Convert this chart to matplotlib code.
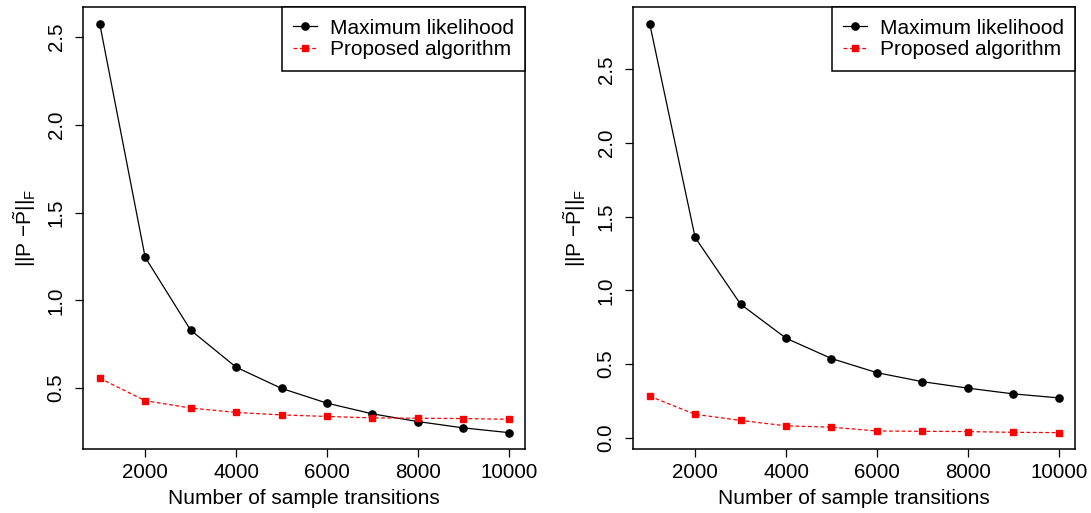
import matplotlib
matplotlib.use("Agg")
import matplotlib.pyplot as plt

plt.rcParams['font.family'] = ['Liberation Sans', 'DejaVu Sans']
plt.rcParams['mathtext.fontset'] = 'custom'
plt.rcParams['mathtext.rm'] = 'Liberation Sans'
plt.rcParams['mathtext.it'] = 'Liberation Sans'
plt.rcParams['mathtext.default'] = 'regular'

# sample sizes
n_samples = [1000, 2000, 3000, 4000, 5000, 6000, 7000, 8000, 9000, 10000]

# left panel
ml_left = [2.576, 1.245, 0.830, 0.619, 0.498, 0.414, 0.353, 0.309, 0.273, 0.246]
prop_left = [0.556, 0.428, 0.386, 0.361, 0.347, 0.338, 0.330, 0.328, 0.326, 0.322]

# right panel
ml_right = [2.811, 1.359, 0.906, 0.675, 0.537, 0.441, 0.380, 0.336, 0.297, 0.270]
prop_right = [0.281, 0.158, 0.117, 0.080, 0.071, 0.045, 0.043, 0.041, 0.036, 0.034]

x_ticks = [2000, 4000, 6000, 8000, 10000]
y_ticks_left = [0.5, 1.0, 1.5, 2.0, 2.5]
y_ticks_right = [0.0, 0.5, 1.0, 1.5, 2.0, 2.5]

fs = 15
fs_tick = 14.8

fig = plt.figure(figsize=(10.91, 5.13), dpi=100)
ax1 = fig.add_axes([0.0764, 0.1248, 0.4049, 0.861])
ax2 = fig.add_axes([0.5805, 0.1248, 0.4049, 0.861])

panels = [(ax1, ml_left, prop_left, y_ticks_left),
          (ax2, ml_right, prop_right, y_ticks_right)]

for ax, ml, prop, yt in panels:
    ax.plot(n_samples, ml, color='black', lw=0.9, marker='o', ms=5.2,
            label='Maximum likelihood')
    ax.plot(n_samples, prop, color='red', lw=0.9, ls=(0, (3, 2)), marker='s',
            ms=4.6, label='Proposed algorithm')
    ax.margins(x=0.04, y=0.04)
    ax.set_xticks(x_ticks)
    ax.set_xticklabels([str(t) for t in x_ticks])
    ax.set_yticks(yt)
    ax.set_yticklabels(['%.1f' % t for t in yt], rotation=90, va='center')
    ax.tick_params(axis='both', direction='out', length=5.8, width=0.9,
                   labelsize=fs_tick, color='black')
    ax.tick_params(axis='x', pad=4)
    ax.tick_params(axis='y', pad=7)
    for s in ax.spines.values():
        s.set_linewidth(1.1)
    ax.set_xlabel('Number of sample transitions', fontsize=fs, labelpad=5)
    ax.set_ylabel(r'$||P\ {-}\tilde{P}||_F$', fontsize=fs, labelpad=6.5)
    leg = ax.legend(loc='upper right', borderaxespad=0, fancybox=False,
                    framealpha=1, edgecolor='black', fontsize=fs,
                    handlelength=1.15, handletextpad=0.6, labelspacing=0.13,
                    borderpad=0.55)
    leg.get_frame().set_linewidth(1.1)

fig.savefig('out.png', dpi=100)
